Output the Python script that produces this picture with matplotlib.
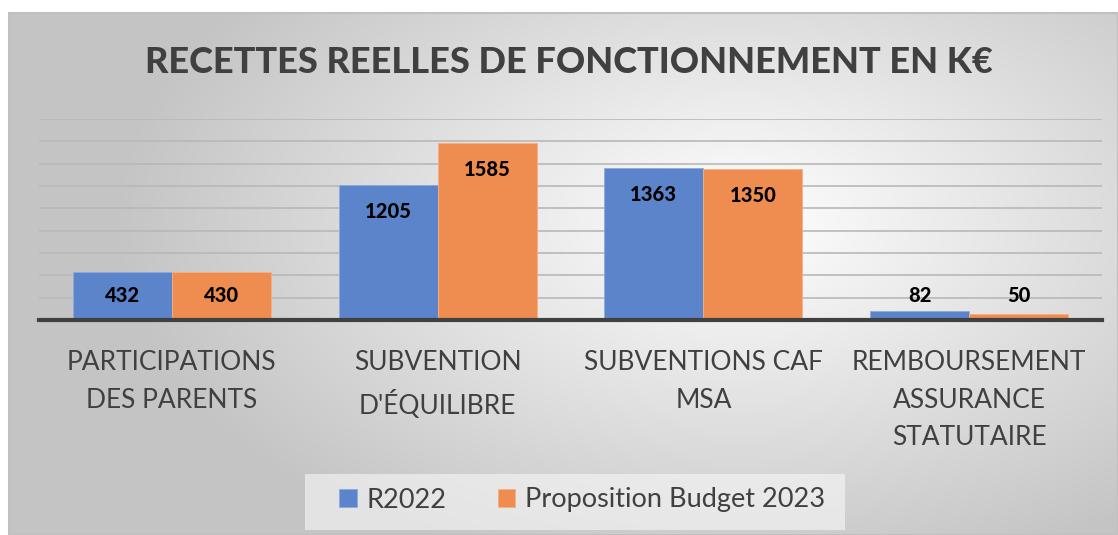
import numpy as np
import matplotlib
matplotlib.use("Agg")
import matplotlib.pyplot as plt
from matplotlib.patches import Rectangle

categories = ["PARTICIPATIONS\nDES PARENTS", "SUBVENTION\nD'ÉQUILIBRE",
              "SUBVENTIONS CAF\nMSA", "REMBOURSEMENT\nASSURANCE\nSTATUTAIRE"]
r2022 = [432, 1205, 1363, 82]
budget2023 = [430, 1585, 1350, 50]
series_names = ["R2022", "Proposition Budget 2023"]

BLUE = "#5b84cb"
ORANGE = "#ee8d4f"
TXT = "#404040"

plt.rcParams["font.family"] = ["Lato", "DejaVu Sans"]

W, H = 1118, 535
fig = plt.figure(figsize=(W / 100, H / 100), dpi=100)

# fond degrade radial (blanc au centre, gris sur les bords)
bg = fig.add_axes([9 / W, 0, 1 - 9 / W, 1 - 13 / H])
yy, xx = np.mgrid[0:H - 13, 0:W - 9]
d = np.sqrt(((xx - 730) / 680.0) ** 2 + ((yy - 210) / 400.0) ** 2)
g = np.clip(1.0 - 0.25 * d, 0.77, 1.0)
bg.imshow(np.dstack([g, g, g]), aspect="auto", extent=[0, 1, 0, 1])
bg.set_xlim(0, 1)
bg.set_ylim(0, 1)
bg.axis("off")
fig.add_artist(Rectangle((9 / W, 0), 1 - 9 / W, 1 - 13 / H, transform=fig.transFigure,
                         fill=False, edgecolor="#c0c0c0", lw=1.5))

ax = fig.add_axes([39 / W, 1 - 320 / H, (1102 - 39) / W, (320 - 119) / H])
ax.patch.set_alpha(0)
x = np.arange(len(categories))
bw = 0.373
ax.bar(x - bw / 2, r2022, bw, color=BLUE, edgecolor="#8eaadb", lw=0.6, zorder=3,
       label=series_names[0])
ax.bar(x + bw / 2, budget2023, bw, color=ORANGE, edgecolor="#f4b183", lw=0.6, zorder=3,
       label=series_names[1])

for vals, off in ((r2022, -bw / 2), (budget2023, bw / 2)):
    for i, v in enumerate(vals):
        ax.text(i + off, max(v - 235, 215), str(v), ha="center", va="center",
                fontsize=14.5, fontweight="black", color="black", zorder=5)

ax.set_xlim(-0.5, len(categories) - 0.5)
ax.set_ylim(0, 1800)
ax.set_yticks(np.arange(200, 1801, 200))
ax.yaxis.grid(True, color="#b8b8b8", lw=1.2, zorder=0)
ax.tick_params(left=False, labelleft=False, bottom=False, labelbottom=False)
for s in ("top", "right", "left"):
    ax.spines[s].set_visible(False)
ax.spines["bottom"].set_color(TXT)
ax.spines["bottom"].set_linewidth(3)
ax.spines["bottom"].set_zorder(4)

for i, lab in enumerate(categories):
    ax.text(i, -0.15, lab, transform=ax.get_xaxis_transform(), ha="center", va="top",
            fontsize=19, color=TXT, linespacing=1.62)

fig.text(569 / W, 1 - 62 / H, "RECETTES REELLES DE FONCTIONNEMENT EN K€", ha="center",
         va="center", fontsize=26, fontweight="black", color=TXT)

fig.add_artist(Rectangle((305 / W, 1 - 530 / H), 540 / W, 56 / H, transform=fig.transFigure,
                         facecolor="#f8f8f8", edgecolor="none", alpha=0.6))
leg = fig.legend(loc="center", bbox_to_anchor=(582 / W, 1 - 500 / H), ncol=2,
                 frameon=False, fontsize=19.5, handlelength=0.65, handleheight=0.65,
                 handletextpad=0.35, columnspacing=1.9)
for t in leg.get_texts():
    t.set_color(TXT)

fig.savefig("out.png", dpi=100)
